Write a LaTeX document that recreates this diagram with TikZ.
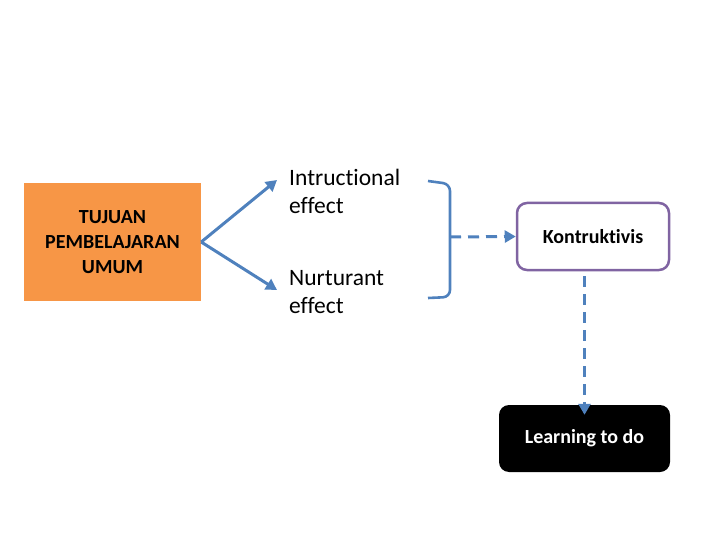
\documentclass[tikz,border=0pt]{standalone}
\usepackage{fontspec}
\setmainfont{Carlito}[Ligatures=NoCommon]
\usetikzlibrary{arrows.meta}
\definecolor{boxorange}{HTML}{F79646}
\definecolor{linkblue}{HTML}{4F81BD}
\definecolor{boxpurple}{HTML}{8064A2}
\begin{document}
\begin{tikzpicture}[x=1pt, y=-1pt,
  link/.style={draw=linkblue, line width=3pt, -{Triangle[length=11pt,width=12pt]}},
  dashlink/.style={link, dash pattern=on 11pt off 7pt},
  effect/.style={align=left, anchor=west, inner sep=0pt, font=\fontsize{23.5}{28}\selectfont}]
\useasboundingbox (0,0) rectangle (720,540);
\node[fill=boxorange, minimum width=177pt, minimum height=118pt, align=center, font=\bfseries\fontsize{20}{25}\selectfont] (tpu) at (112.5,242){TUJUAN\\PEMBELAJARAN\\UMUM};
\node[effect] (ins) at (289,191){Intructional\\effect};
\node[effect] (nur) at (289,292){Nurturant\\effect};
\draw[link](tpu.east) -- (277,180);
\draw[link](tpu.east) -- (277,290);
% bracket round the two effects
\draw[linkblue, line width=2.6pt, rounded corners=7pt] (428,181) -- (450,184) -- (450,297) -- (428,298);
\coordinate (brk) at (450,237);
\node[draw=boxpurple, line width=2.5pt, rounded corners=10pt, minimum width=152pt, minimum height=67pt, font=\bfseries\fontsize{20}{24}\selectfont] (kon) at (593,236.5){Kontruktivis};
\node[fill=black, text=white, rounded corners=10pt, minimum width=171pt, minimum height=67pt, font=\bfseries\fontsize{20}{24}\selectfont] (ltd) at (584.5,438.5){Learning to do};
\draw[dashlink](brk) -- (kon.west);
\draw[dashlink]([yshift=-5pt]kon.south -| ltd.north) -- ([yshift=-10pt]ltd.north);
\end{tikzpicture}
\end{document}
